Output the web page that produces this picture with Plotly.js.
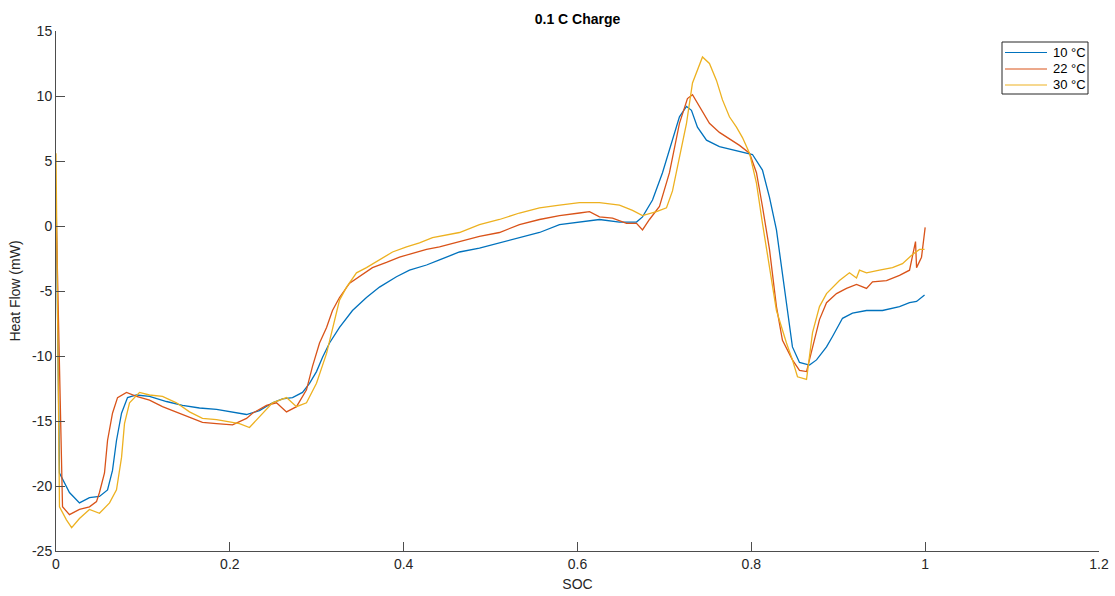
<!DOCTYPE html>
<html>
<head>
<meta charset="utf-8">
<script src="https://cdn.plot.ly/plotly-3.0.1.min.js"></script>
<style>
  html, body { margin: 0; padding: 0; background: #ffffff; }
  #chart { width: 1115px; height: 596px; }
</style>
</head>
<body>
<div id="chart"></div>
<script>
// Heat flow during 0.1 C charge at three temperatures, plotted against state of charge.
const soc10 = [0, 0.004, 0.0155, 0.027, 0.0385, 0.050, 0.0593, 0.065, 0.0696, 0.0754,
  0.0823, 0.0926, 0.1076, 0.1271, 0.1455, 0.1651, 0.1847, 0.2031, 0.2192, 0.2341,
  0.2491, 0.2606, 0.2721, 0.2836, 0.2917, 0.2997, 0.3067, 0.3147, 0.3262, 0.3411,
  0.3572, 0.3722, 0.3917, 0.4067, 0.4263, 0.4412, 0.4642, 0.4872, 0.5102, 0.5332,
  0.5563, 0.5793, 0.6023, 0.6253, 0.6483, 0.6679, 0.6748, 0.6863, 0.6978, 0.7093,
  0.7173, 0.7254, 0.7311, 0.7380, 0.7484, 0.7633, 0.7829, 0.8013, 0.8128, 0.8209,
  0.8289, 0.8358, 0.8416, 0.8473, 0.8554, 0.8669, 0.8750, 0.8865, 0.8934, 0.9049,
  0.9164, 0.9325, 0.9509, 0.9705, 0.9820, 0.9901, 0.9993];
const flow10 = [3.0, -19.0, -20.5, -21.3, -20.9, -20.8, -20.3, -18.8, -16.5, -14.4,
  -13.2, -13.0, -13.1, -13.5, -13.8, -14.0, -14.1, -14.3, -14.5, -14.2,
  -13.6, -13.3, -13.2, -12.8, -12.1, -11.2, -10.1, -9.0, -7.8, -6.5,
  -5.5, -4.7, -3.9, -3.4, -3.0, -2.6, -2.0, -1.7, -1.3, -0.9,
  -0.5, 0.1, 0.3, 0.5, 0.3, 0.3, 0.7, 2.0, 4.1, 6.6,
  8.4, 9.2, 8.9, 7.6, 6.6, 6.1, 5.8, 5.5, 4.3, 2.2,
  -0.3, -3.6, -6.7, -9.3, -10.5, -10.7, -10.3, -9.3, -8.5, -7.1,
  -6.7, -6.5, -6.5, -6.2, -5.9, -5.8, -5.3];

const soc22 = [0, 0.0075, 0.0155, 0.027, 0.0385, 0.0466, 0.050, 0.0558, 0.0593, 0.065,
  0.0708, 0.0811, 0.0926, 0.1076, 0.1225, 0.1386, 0.1536, 0.1685, 0.1847, 0.2031,
  0.2192, 0.2261, 0.2422, 0.2537, 0.2652, 0.2767, 0.2882, 0.2951, 0.3032, 0.3113,
  0.3181, 0.3262, 0.3378, 0.3492, 0.3641, 0.3802, 0.3952, 0.4102, 0.4263, 0.4412,
  0.4642, 0.4872, 0.5102, 0.5332, 0.5563, 0.5793, 0.6023, 0.6138, 0.6253, 0.6403,
  0.6564, 0.6679, 0.6748, 0.6828, 0.6943, 0.7058, 0.7173, 0.7265, 0.7323, 0.7403,
  0.7518, 0.7633, 0.7748, 0.7864, 0.7979, 0.8059, 0.8128, 0.8209, 0.8289, 0.8358,
  0.8473, 0.8554, 0.8635, 0.8704, 0.8784, 0.8865, 0.8980, 0.9095, 0.9210, 0.9325,
  0.9394, 0.9555, 0.9705, 0.9820, 0.9889, 0.9901, 0.9958, 1.0];
const flow22 = [1.6, -21.6, -22.2, -21.8, -21.6, -21.2, -20.5, -19.0, -16.5, -14.4,
  -13.2, -12.8, -13.1, -13.4, -13.9, -14.3, -14.7, -15.1, -15.2, -15.3,
  -14.8, -14.4, -13.8, -13.6, -14.3, -13.9, -12.6, -10.8, -9.0, -7.8,
  -6.5, -5.5, -4.4, -3.9, -3.2, -2.8, -2.4, -2.1, -1.8, -1.6,
  -1.2, -0.8, -0.5, 0.1, 0.5, 0.8, 1.0, 1.1, 0.7, 0.6,
  0.2, 0.2, -0.3, 0.5, 1.5, 4.1, 7.9, 9.8, 10.1, 9.2,
  7.9, 7.2, 6.7, 6.2, 5.6, 4.1, 1.5, -1.8, -6.2, -8.8,
  -10.3, -11.1, -11.2, -9.3, -7.2, -5.9, -5.2, -4.8, -4.5, -4.8,
  -4.3, -4.2, -3.8, -3.4, -1.2, -3.2, -2.4, -0.1];

const soc30 = [0, 0.004, 0.012, 0.018, 0.027, 0.0385, 0.050, 0.0616, 0.0696, 0.0754,
  0.0788, 0.0846, 0.0961, 0.1076, 0.1225, 0.1386, 0.1536, 0.1685, 0.1847, 0.2031,
  0.2111, 0.2226, 0.2341, 0.2491, 0.2652, 0.2767, 0.2882, 0.2997, 0.3113, 0.3181,
  0.3262, 0.3343, 0.3457, 0.3572, 0.3722, 0.3872, 0.4033, 0.4182, 0.4332, 0.4493,
  0.4642, 0.4872, 0.5102, 0.5332, 0.5563, 0.5793, 0.6023, 0.6253, 0.6483, 0.6633,
  0.6748, 0.6909, 0.7024, 0.7093, 0.7173, 0.7254, 0.7323, 0.7403, 0.7438, 0.7518,
  0.7599, 0.7668, 0.7748, 0.7829, 0.7898, 0.7979, 0.8059, 0.8128, 0.8209, 0.8289,
  0.8404, 0.8473, 0.8531, 0.8589, 0.8635, 0.8704, 0.8784, 0.8865, 0.8934, 0.9014,
  0.9129, 0.9210, 0.9244, 0.9325, 0.9474, 0.9624, 0.9739, 0.9854, 0.9935, 0.9993];
const flow30 = [5.6, -21.6, -22.6, -23.2, -22.5, -21.8, -22.1, -21.3, -20.3, -17.8,
  -15.2, -13.6, -12.8, -13.0, -13.1, -13.6, -14.3, -14.8, -14.9, -15.1,
  -15.2, -15.5, -14.7, -13.6, -13.2, -13.9, -13.6, -12.1, -9.8, -8.0,
  -5.7, -4.7, -3.6, -3.2, -2.6, -2.0, -1.6, -1.3, -0.9, -0.7,
  -0.5, 0.1, 0.5, 1.0, 1.4, 1.6, 1.8, 1.8, 1.6, 1.2,
  0.8, 1.1, 1.4, 2.7, 5.3, 7.9, 11.0, 12.5, 13.0, 12.5,
  11.2, 9.7, 8.4, 7.6, 6.8, 5.6, 3.3, 0.2, -3.2, -6.5,
  -9.0, -10.3, -11.6, -11.7, -11.8, -8.2, -6.2, -5.2, -4.7, -4.2,
  -3.6, -4.0, -3.4, -3.6, -3.4, -3.2, -2.9, -2.2, -1.8, -1.8];

const seriesNames = ['10 °C', '22 °C', '30 °C'];
const seriesColors = ['#0072BD', '#D95319', '#EDB120'];

const xTicks = [0, 0.2, 0.4, 0.6, 0.8, 1, 1.2];
const yTicks = [-25, -20, -15, -10, -5, 0, 5, 10, 15];

const textColor = '#262626';
const axisColor = '#4d4d4d';
const fontFamily = '"Liberation Sans", Arial, Helvetica, sans-serif';

// Figure geometry in pixels
const W = 1115, H = 596;
const M = { l: 56, r: 16, t: 31, b: 45 };
const plotW = W - M.l - M.r, plotH = H - M.t - M.b;
const paperX = px => (px - M.l) / plotW;
const paperY = py => (H - M.b - py) / plotH;

const xs = [soc10, soc22, soc30];
const ys = [flow10, flow22, flow30];

const traces = xs.map((x, i) => ({
  type: 'scatter',
  mode: 'lines',
  x: x,
  y: ys[i],
  name: seriesNames[i],
  showlegend: false,
  line: { color: seriesColors[i], width: 1.3 }
}));

// Boxed legend in the upper right corner
const legendBox = { left: 1002, right: 1088, top: 42, bottom: 94 };
const legendRowY = [52.5, 69, 85];
const legendLine = { x0: 1005, x1: 1047 };
const legendTextX = 1051;

const shapes = [{
  type: 'rect', xref: 'paper', yref: 'paper',
  x0: paperX(legendBox.left), x1: paperX(legendBox.right),
  y0: paperY(legendBox.bottom), y1: paperY(legendBox.top),
  line: { color: '#262626', width: 1 }, fillcolor: '#ffffff', layer: 'above'
}];
const annotations = [];
seriesNames.forEach((name, i) => {
  shapes.push({
    type: 'line', xref: 'paper', yref: 'paper',
    x0: paperX(legendLine.x0), x1: paperX(legendLine.x1),
    y0: paperY(legendRowY[i]), y1: paperY(legendRowY[i]),
    line: { color: seriesColors[i], width: 1 }, layer: 'above'
  });
  annotations.push({
    xref: 'paper', yref: 'paper',
    x: paperX(legendTextX), y: paperY(legendRowY[i]),
    xanchor: 'left', yanchor: 'middle',
    text: name, showarrow: false,
    font: { family: fontFamily, size: 13, color: '#000000' }
  });
});

const layout = {
  width: W,
  height: H,
  margin: M,
  paper_bgcolor: '#ffffff',
  plot_bgcolor: '#ffffff',
  font: { family: fontFamily, color: textColor, size: 14 },
  showlegend: false,
  title: {
    text: '<b>0.1 C Charge</b>',
    font: { family: fontFamily, size: 14, color: '#000000' },
    xref: 'paper', x: 0.5, xanchor: 'center',
    yref: 'container', y: 0.968, yanchor: 'middle'
  },
  xaxis: {
    range: [0, 1.2],
    tickvals: xTicks,
    ticktext: xTicks.map(String),
    ticks: 'inside',
    ticklen: 9,
    tickcolor: axisColor,
    tickwidth: 1,
    showline: true,
    linecolor: axisColor,
    linewidth: 1,
    mirror: false,
    showgrid: false,
    zeroline: false,
    tickfont: { size: 14, color: textColor },
    title: { text: 'SOC', font: { size: 14, color: textColor }, standoff: 8 }
  },
  yaxis: {
    range: [-25, 15],
    tickvals: yTicks,
    ticktext: yTicks.map(String),
    ticks: 'inside',
    ticklen: 9,
    tickcolor: axisColor,
    tickwidth: 1,
    showline: true,
    linecolor: axisColor,
    linewidth: 1,
    mirror: false,
    showgrid: false,
    zeroline: false,
    tickfont: { size: 14, color: textColor },
    title: { text: 'Heat Flow (mW)', font: { size: 14, color: textColor }, standoff: 8 }
  },
  shapes: shapes,
  annotations: annotations
};

Plotly.newPlot('chart', traces, layout, { displayModeBar: false, staticPlot: true });
</script>
</body>
</html>
